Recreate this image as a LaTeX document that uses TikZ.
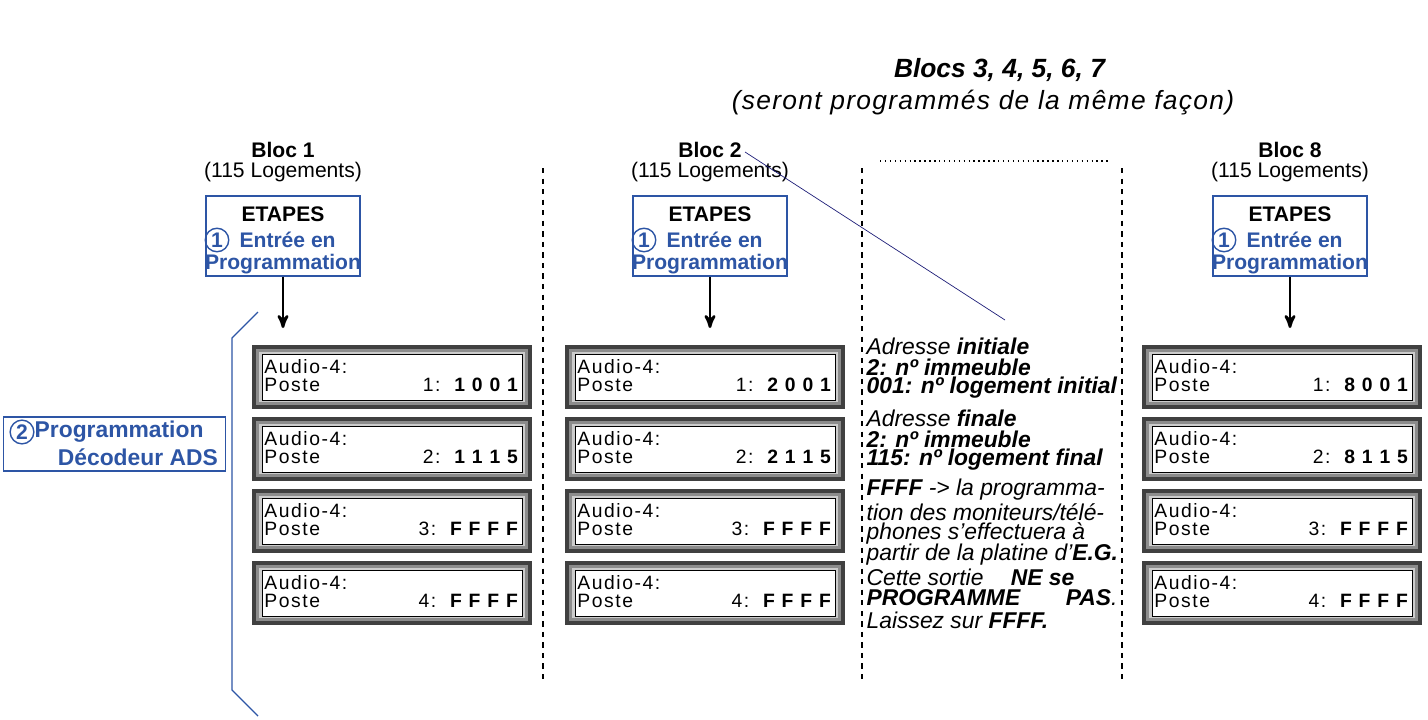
\documentclass[tikz,border=0pt]{standalone}
\usepackage{fontspec}
\setmainfont{Liberation Sans}
\usetikzlibrary{arrows}
\definecolor{adsblue}{RGB}{45,85,165}
\definecolor{navy}{RGB}{30,30,120}

\newcommand{\poste}[5]{% name, x, y, number, value
  \fill[black!75] (#2,#3) rectangle ++(280,64);
  \fill[black!45] (#2+4,#3+4) rectangle ++(272,56);
  \fill[black!20] (#2+7,#3+7) rectangle ++(266,50);
  \node[draw=black,fill=white,minimum width=260*0.02cm,minimum height=46*0.02cm,inner sep=0pt,anchor=north west] (#1) at (#2+10,#3+9) {};
  \node[anchor=west,inner sep=1pt,font=\fontsize{11}{11}\selectfont\addfontfeature{LetterSpace=8}] at (#2+10,#3+22) {Audio-4:};
  \node[anchor=west,inner sep=1pt,font=\fontsize{11}{11}\selectfont\addfontfeature{LetterSpace=8}] at (#2+10,#3+40) {Poste};
  \node[anchor=east,inner sep=1pt,font=\fontsize{11}{11}\selectfont\addfontfeature{LetterSpace=8}] at (#2+270,#3+40) {#4:\ \ \textbf{#5}};
}

\begin{document}
\begin{tikzpicture}[x=0.02cm,y=-0.02cm,>=stealth',thick,font=\fontsize{12}{12}\selectfont]
  \tikzstyle{etapes}=[draw=adsblue,fill=white,minimum width=154*0.02cm,minimum height=80*0.02cm,inner sep=0pt]
  \tikzstyle{num}=[draw=adsblue,circle,inner sep=1pt,text=adsblue,font=\fontsize{12}{12}\selectfont\bfseries]
  \tikzstyle{remark}=[anchor=west,inner sep=0pt,font=\fontsize{13}{13}\selectfont\itshape]
  \useasboundingbox (0,0) rectangle (1428,720);

  % titre des blocs intermediaires
  \node[font=\fontsize{15}{15}\selectfont] (T1) at (1000,70) {\textbf{\itshape Blocs 3, 4, 5, 6, 7}};
  \node[font=\fontsize{15}{15}\selectfont\addfontfeature{LetterSpace=5}] (T2) at (983,103) {\itshape (seront programmés de la même façon)};

  % separations
  \foreach \x/\n in {543/a,862/b,1122/c}{
    \coordinate (S\n) at (\x,168);
    \coordinate (E\n) at (\x,680);
    \draw[dashed,semithick] (S\n) -- (E\n);
  }
  \coordinate (D1) at (880,161);
  \coordinate (D2) at (1108,161);
  \draw[dotted,thick] (D1) -- (D2);

  % colonnes
  \foreach \c/\cx/\b in {1/283/1,2/710/2,8/1290/8}{
    \node (B\c) at (\cx,150) {\textbf{Bloc \b}};
    \node (L\c) at (\cx,172) {(115 Logements)};
    \node[etapes] (E\c) at (\cx,236) {};
    \node (ET\c) at (\cx,214) {\textbf{ETAPES}};
    \node[num] (N\c) at (\cx-66,240) {1};
    \node[text=adsblue,font=\fontsize{12}{12}\selectfont\bfseries,anchor=west] (EN\c) at (\cx-50,240) {Entrée en};
    \node[text=adsblue,font=\fontsize{12}{12}\selectfont\bfseries] (PR\c) at (\cx,264) {Programmation};
    \coordinate (A\c) at (\cx,328);
    \draw[->,line width=1.5pt] (E\c) -- (A\c);
  }
  \foreach \c/\x/\d in {1/252/1,2/565/2,8/1142/8}{
    \poste{P\c a}{\x}{345}{1}{\d\ 0 0 1}
    \poste{P\c b}{\x}{417}{2}{\d\ 1 1 5}
    \poste{P\c c}{\x}{489}{3}{F F F F}
    \poste{P\c d}{\x}{561}{4}{F F F F}
  }

  % renvoi
  \coordinate (R1) at (745,152);
  \coordinate (R2) at (1005,320);
  \draw[navy,thin] (R1) -- (R2);

  % remarques
  \node[remark] (M1) at (866,346) {Adresse \textbf{initiale}};
  \node[remark] (M2) at (866,367) {\textbf{2: nº immeuble}};
  \node[remark] (M3) at (866,388) {\textbf{001: nº logement initial}};
  \node[remark] (M4) at (866,418) {Adresse \textbf{finale}};
  \node[remark] (M5) at (866,439) {\textbf{2: nº immeuble}};
  \node[remark] (M6) at (866,460) {\textbf{115: nº logement final}};
  \node[remark] (M7) at (866,490) {\textbf{FFFF} -> la programma-};
  \node[remark] (M8) at (866,512) {tion des moniteurs/télé-};
  \node[remark] (M9) at (866,533) {phones s’effectuera à};
  \node[remark] (M10) at (866,555) {partir de la platine d’\textbf{E.G.}};
  \node[remark] (M11) at (866,577) {Cette sortie\hspace{1.2em}\textbf{NE se}};
  \node[remark] (M12) at (866,598) {\textbf{PROGRAMME\hspace{2em}PAS}.};
  \node[remark] (M13) at (866,620) {Laissez sur \textbf{FFFF.}};

  % accolade gauche
  \coordinate (K1) at (258,312);
  \coordinate (K2) at (232,338);
  \coordinate (K3) at (232,690);
  \coordinate (K4) at (258,716);
  \draw[adsblue] (K1) -- (K2) -- (K3) -- (K4);
  \node[draw=adsblue,minimum width=222*0.02cm,minimum height=54*0.02cm,anchor=east] (PD) at (226,444) {};
  \node[num] (N0) at (22,432) {2};
  \node[text=adsblue,font=\fontsize{13}{13}\selectfont\bfseries,anchor=west,inner sep=0pt] (PD1) at (34,432) {Programmation};
  \node[text=adsblue,font=\fontsize{13}{13}\selectfont\bfseries,anchor=east,inner sep=2pt] (PD2) at (222,457) {Décodeur ADS};
\end{tikzpicture}
\end{document}
